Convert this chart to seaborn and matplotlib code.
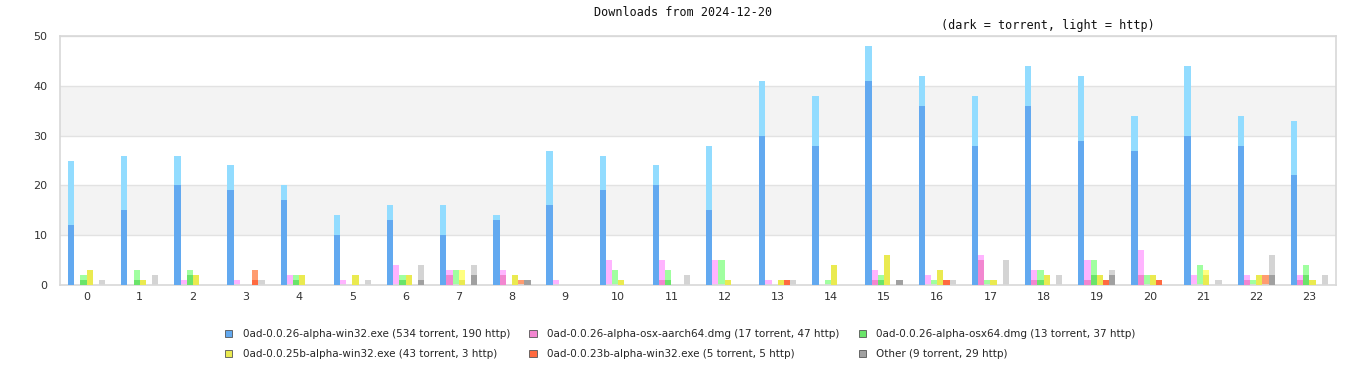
import numpy as np
import pandas as pd
import matplotlib
matplotlib.use("Agg")
import matplotlib.pyplot as plt
from matplotlib.patches import Patch
import seaborn as sns

hours = list(range(24))

names = ["0ad-0.0.26-alpha-win32.exe", "0ad-0.0.26-alpha-osx-aarch64.dmg",
         "0ad-0.0.26-alpha-osx64.dmg", "0ad-0.0.25b-alpha-win32.exe",
         "0ad-0.0.23b-alpha-win32.exe", "Other"]

# torrent / http downloads per hour
win32_torrent = [12, 15, 20, 19, 17, 10, 13, 10, 13, 16, 19, 20, 15, 30, 28, 41, 36, 28, 36, 29, 27, 30, 28, 22]
win32_http = [13, 11, 6, 5, 3, 4, 3, 6, 1, 11, 7, 4, 13, 11, 10, 7, 6, 10, 8, 13, 7, 14, 6, 11]
aarch64_torrent = [0, 0, 0, 0, 0, 0, 0, 2, 2, 0, 0, 1, 0, 0, 0, 1, 0, 5, 1, 1, 2, 0, 1, 1]
aarch64_http = [0, 0, 1, 1, 2, 1, 4, 1, 1, 1, 5, 4, 5, 1, 0, 2, 2, 1, 2, 4, 5, 2, 1, 1]
osx64_torrent = [1, 1, 2, 0, 1, 0, 1, 0, 0, 0, 0, 1, 0, 0, 0, 1, 0, 0, 1, 2, 0, 0, 0, 2]
osx64_http = [1, 2, 1, 0, 1, 0, 1, 3, 0, 0, 3, 2, 5, 0, 1, 1, 1, 1, 2, 3, 2, 4, 1, 2]
w25b_torrent = [3, 1, 2, 0, 2, 2, 2, 1, 2, 0, 1, 0, 1, 1, 4, 6, 3, 1, 2, 2, 2, 2, 2, 1]
w25b_http = [0, 0, 0, 0, 0, 0, 0, 2, 0, 0, 0, 0, 0, 0, 0, 0, 0, 0, 0, 0, 0, 1, 0, 0]
w23b_torrent = [0, 0, 0, 1, 0, 0, 0, 0, 0, 0, 0, 0, 0, 1, 0, 0, 1, 0, 0, 1, 1, 0, 0, 0]
w23b_http = [0, 0, 0, 2, 0, 0, 0, 0, 1, 0, 0, 0, 0, 0, 0, 0, 0, 0, 0, 0, 0, 0, 2, 0]
other_torrent = [0, 0, 0, 0, 0, 0, 1, 2, 1, 0, 0, 0, 0, 0, 0, 1, 0, 0, 0, 2, 0, 0, 2, 0]
other_http = [1, 2, 0, 1, 0, 1, 3, 2, 0, 0, 0, 2, 0, 1, 0, 0, 1, 5, 2, 1, 0, 1, 4, 2]

torrent = [win32_torrent, aarch64_torrent, osx64_torrent, w25b_torrent, w23b_torrent, other_torrent]
http = [win32_http, aarch64_http, osx64_http, w25b_http, w23b_http, other_http]

dark = ["#62a9f0", "#f286d0", "#6ae46a", "#eaea50", "#ff6a40", "#a0a0a0"]
light = ["#92dcff", "#ffb4ff", "#a0ffa0", "#ffff80", "#ff9c70", "#d4d4d4"]

rows = []
for n, t, h in zip(names, torrent, http):
    for hr in hours:
        rows.append({"hour": hr, "series": n, "torrent": t[hr], "total": t[hr] + h[hr]})
df = pd.DataFrame(rows)

sns.set_style("white")
plt.rcParams['font.family'] = ['DejaVu Sans']

fig = plt.figure(figsize=(13.66, 3.8), dpi=100)
ax = fig.add_axes([60 / 1366, 1 - 285 / 380, 1276 / 1366, 249 / 380])

# alternating background bands
for lo in (10, 30):
    ax.axhspan(lo, lo + 10, color="#f3f3f3", zorder=0, lw=0)
for yv in range(10, 60, 10):
    ax.axhline(yv, color="#e2e2e2", lw=1, zorder=0.5)

# light (http) bar drawn as total, dark (torrent) on top from zero
sns.barplot(data=df, x="hour", y="total", hue="series", hue_order=names,
            palette=light, width=0.7, saturation=1, errorbar=None,
            linewidth=0, legend=False, ax=ax, zorder=2)
sns.barplot(data=df, x="hour", y="torrent", hue="series", hue_order=names,
            palette=dark, width=0.7, saturation=1, errorbar=None,
            linewidth=0, legend=False, ax=ax, zorder=3)

ax.set_xlim(-0.5, 23.5)
ax.set_ylim(0, 50)
ax.set_yticks(range(0, 60, 10))
ax.set_xlabel("")
ax.set_ylabel("")
ax.tick_params(axis="both", length=0, labelsize=8, colors="#333333")
ax.tick_params(axis="y", pad=9)
ax.tick_params(axis="x", pad=5)
for s in ax.spines.values():
    s.set_color("#d8d8d8")
    s.set_linewidth(1.2)

fig.text(0.5, 1 - 13 / 380, "Downloads from 2024-12-20", ha="center", va="center",
         fontsize=8.5, family="DejaVu Sans Mono", color="#111111")
fig.text(1048 / 1366, 1 - 26 / 380, "(dark = torrent, light = http)", ha="center", va="center",
         fontsize=8.5, family="DejaVu Sans Mono", color="#111111")

labels = [f"{n} ({sum(t)} torrent, {sum(h)} http)" for n, t, h in zip(names, torrent, http)]
handles = [Patch(facecolor=c, edgecolor="#555555", lw=0.6) for c in dark]
order = [0, 3, 1, 4, 2, 5]
fig.legend([handles[i] for i in order], [labels[i] for i in order], ncol=3,
           loc="upper left", bbox_to_anchor=(225 / 1366, 1 - 329 / 380),
           frameon=False, fontsize=7.5, handlelength=0.7, handleheight=0.7,
           handletextpad=1.0, columnspacing=1.85, labelspacing=0.95,
           borderaxespad=0, borderpad=0)

fig.savefig("out.png", dpi=100)
